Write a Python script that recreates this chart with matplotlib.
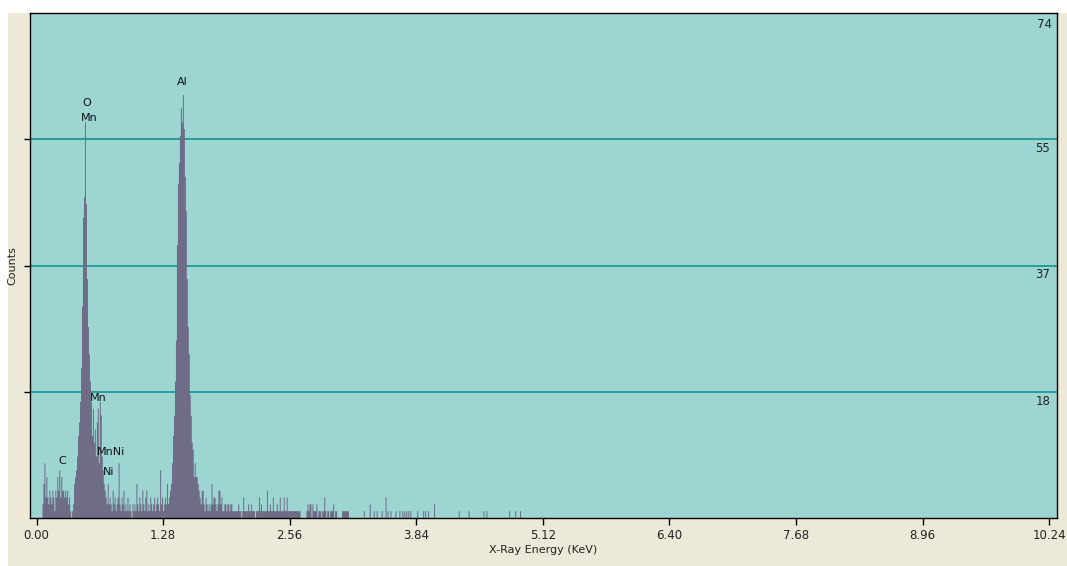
import numpy as np
import matplotlib
matplotlib.use("Agg")
import matplotlib.pyplot as plt
from matplotlib.patches import Rectangle

# EDS spectrum, 10 eV channels (1024 channels -> 10.24 keV)
channel_width = 0.01

# channels 0..99
low_counts = [
    0, 0, 0, 0, 0, 0, 2, 5, 8, 3,
    6, 3, 2, 4, 3, 2, 4, 3, 1, 4,
    3, 6, 4, 7, 3, 6, 4, 4, 3, 4,
    3, 4, 2, 3, 1, 0, 1, 2, 5, 6,
    7, 9, 12, 14, 17, 22, 31, 44, 47, 58,
    46, 35, 28, 24, 20, 17, 12, 16, 11, 13,
    9, 14, 16, 8, 17, 15, 9, 7, 5, 4,
    3, 2, 5, 2, 3, 2, 1, 4, 2, 3,
    1, 2, 3, 8, 2, 1, 3, 2, 4, 1,
    2, 1, 3, 1, 2, 1, 0, 2, 1, 2,
]

# channels 100..199
al_counts = [
    1, 5, 2, 1, 3, 2, 1, 4, 2, 1,
    3, 4, 1, 2, 1, 3, 2, 1, 2, 3,
    1, 2, 3, 2, 1, 7, 2, 3, 1, 2,
    3, 2, 5, 2, 3, 4, 5, 8, 12, 15,
    20, 26, 40, 49, 52, 56, 60, 58, 62, 57,
    50, 45, 35, 28, 24, 18, 15, 11, 10, 6,
    8, 6, 6, 5, 4, 3, 2, 4, 4, 2,
    1, 3, 2, 1, 2, 1, 2, 5, 2, 3,
    3, 2, 1, 2, 4, 4, 2, 3, 1, 1,
    2, 2, 1, 2, 2, 1, 2, 2, 1, 1,
]

# channels 200..269
mid_counts = [
    1, 1, 1, 1, 2, 1, 1, 0, 1, 3,
    1, 1, 1, 1, 2, 1, 1, 2, 1, 1,
    1, 0, 1, 1, 1, 3, 1, 2, 1, 1,
    1, 1, 1, 4, 1, 1, 2, 1, 1, 3,
    1, 1, 1, 2, 1, 1, 3, 1, 1, 1,
    3, 1, 1, 3, 1, 1, 1, 1, 1, 1,
    1, 1, 1, 1, 1, 1, 1, 0, 0, 0,
]

# sparse high-energy tail
tail_channels = [273, 274, 275, 276, 277, 279, 280, 281, 282, 283, 285, 286, 287,
                 289, 290, 291, 292, 294, 295, 297, 298, 299, 300, 302, 303,
                 309, 310, 311, 312, 313, 314, 315,
                 331, 337, 341, 344, 349, 353, 355, 358, 363, 367, 370, 372,
                 374, 376, 378, 385, 391, 393, 396, 402, 427, 437, 452, 455,
                 478, 484, 489]
tail_counts = [1, 2, 1, 2, 2, 2, 1, 1, 1, 2, 1, 1, 1,
               1, 1, 3, 1, 1, 1, 1, 1, 1, 2, 1, 1,
               1, 1, 1, 1, 1, 1, 1,
               1, 2, 1, 1, 1, 3, 1, 1, 1, 1, 1, 1,
               1, 1, 1, 1, 1, 1, 1, 2, 1, 1, 1, 1,
               1, 1, 1]

# element markers (text, energy keV, counts)
peak_labels = ["O", "Mn", "Al", "Mn", "MnNi", "Ni", "C"]
peak_energy = [0.511, 0.531, 1.472, 0.622, 0.754, 0.734, 0.258]
peak_height = [60.8, 58.6, 63.9, 17.6, 9.7, 6.7, 8.4]

x_ticks = [0.00, 1.28, 2.56, 3.84, 5.12, 6.40, 7.68, 8.96, 10.24]
y_max = 74
y_grid = [18.5, 37, 55.5]
y_grid_labels = ["18", "37", "55"]

# build full spectrum
counts = np.zeros(1024)
counts[0:100] = low_counts
counts[100:200] = al_counts
counts[200:270] = mid_counts
for c, n in zip(tail_channels, tail_counts):
    counts[c] = n
edges = np.arange(1025) * channel_width

beige = "#ECE9D8"
plot_bg = "#9DD5D2"
grid_col = "#2A9B9C"
bar_col = "#6E6C87"

fig = plt.figure(figsize=(10.67, 5.66), dpi=100, facecolor="white")
fig.patches.append(Rectangle((8 / 1067, 0), 1, 1 - 13 / 566, transform=fig.transFigure,
                             facecolor=beige, edgecolor="none", zorder=-1))

ax = fig.add_axes([29.5 / 1067, 1 - 518 / 566, (1057 - 29.5) / 1067, (518 - 13) / 566])
ax.set_facecolor(plot_bg)

for g in y_grid:
    ax.axhline(g, color=grid_col, lw=1.4, zorder=1)

ax.stairs(counts, edges, fill=True, color=bar_col, lw=0, zorder=2)

ax.set_xlim(-0.071, 10.32)
ax.set_ylim(0, y_max)

ax.set_xticks(x_ticks)
ax.set_xticklabels(["%.2f" % t for t in x_ticks], fontsize=8.5, color="#222222")
ax.set_yticks(y_grid)
ax.set_yticklabels([])
ax.tick_params(axis="x", direction="out", length=5, width=1, pad=3)
ax.tick_params(axis="y", direction="out", length=4, width=1, left=True, right=False)

for s in ax.spines.values():
    s.set_color("black")
    s.set_linewidth(1)

# count labels on the right, inside the plot
ax.text(0.995, 0.99, str(y_max), transform=ax.transAxes, ha="right", va="top",
        fontsize=8.5, color="#222222")
for g, lab in zip(y_grid, y_grid_labels):
    ax.annotate(lab, xy=(1, g), xycoords=("axes fraction", "data"), xytext=(-5, -2),
                textcoords="offset points", ha="right", va="top", fontsize=8.5,
                color="#222222")

for lab, e, h in zip(peak_labels, peak_energy, peak_height):
    ax.text(e, h, lab, ha="center", va="center", fontsize=8, color="#111111", zorder=3)

ax.set_xlabel("X-Ray Energy (KeV)", fontsize=8, labelpad=2, color="#222222")
ax.set_ylabel("Counts", fontsize=8, labelpad=1, color="#222222")

fig.savefig("out.png", dpi=100, facecolor=fig.get_facecolor())
